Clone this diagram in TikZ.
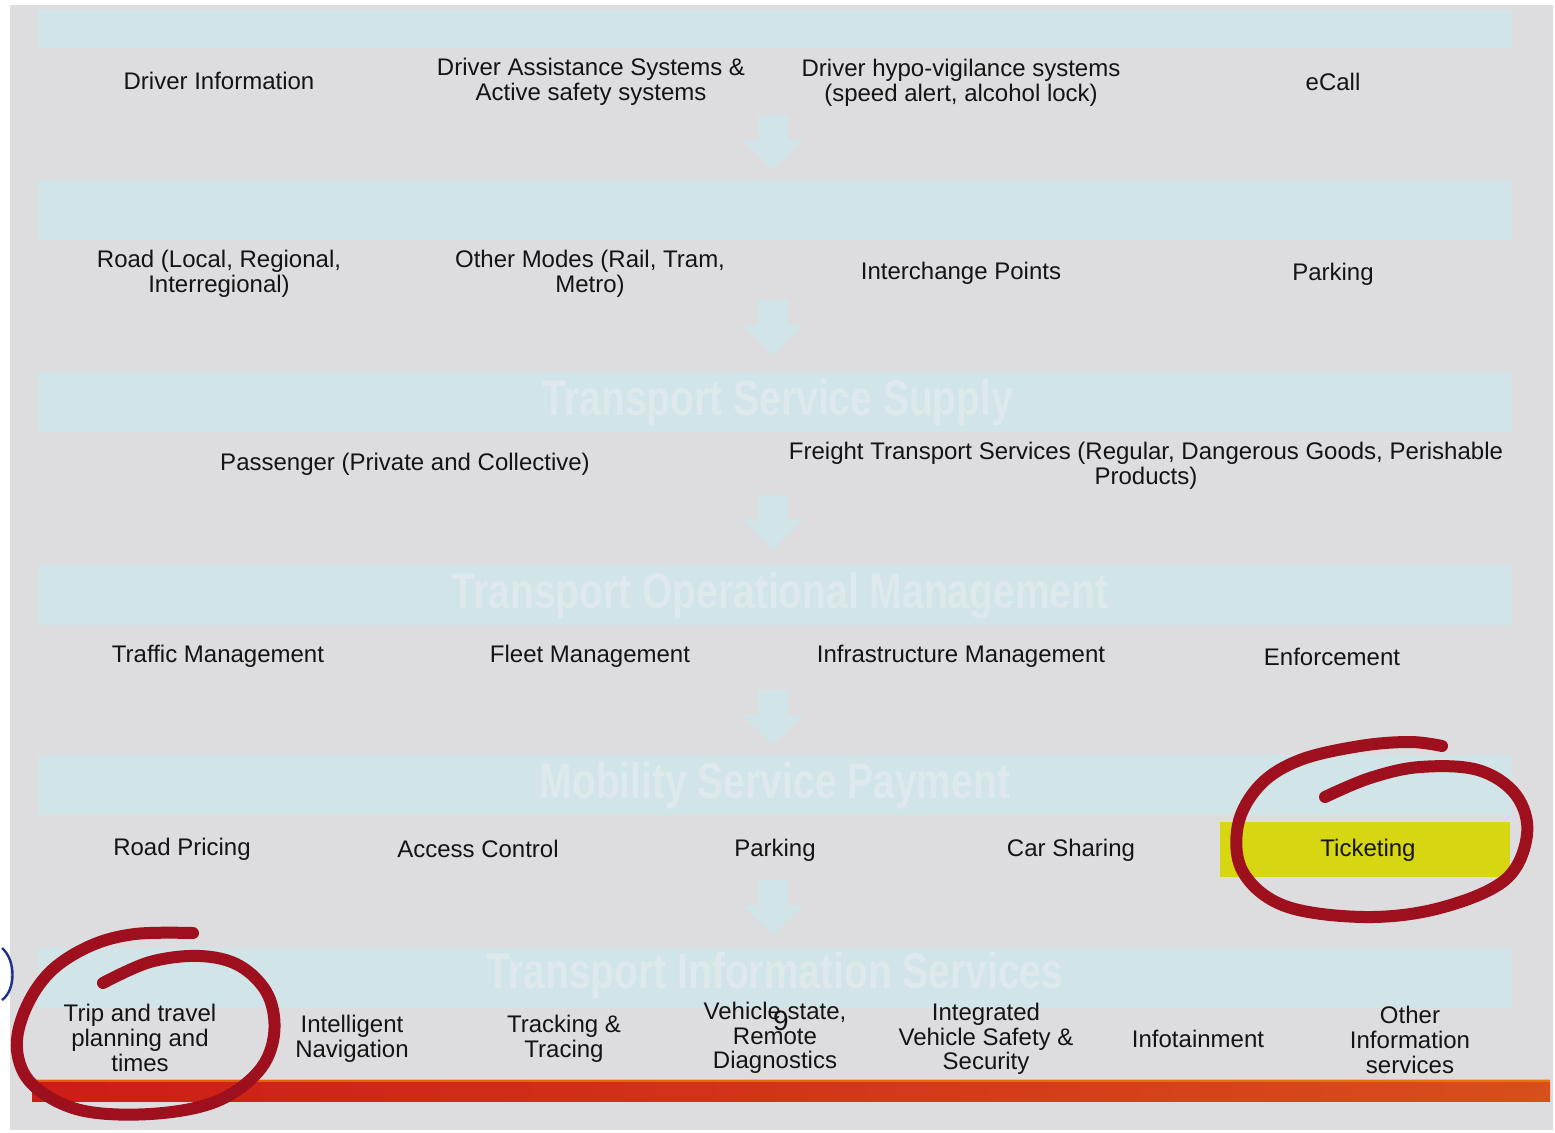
\documentclass[tikz,border=0pt]{standalone}
\usepackage{fontspec}
\setmainfont{Liberation Sans}
\newfontfamily\bannerfont{Liberation Sans}[FakeStretch=0.78]
\definecolor{bgc}{RGB}{221,221,224}
\definecolor{bannerc}{RGB}{209,228,232}
\definecolor{btext}{RGB}{222,233,236}
\definecolor{txt}{RGB}{20,20,20}
\definecolor{ticketc}{RGB}{214,214,18}
\definecolor{penred}{RGB}{158,16,30}
\definecolor{barred}{RGB}{205,28,24}
\definecolor{barorange}{RGB}{216,78,28}
\definecolor{penblue}{RGB}{30,50,140}
\tikzset{
  item/.style={font=\fontsize{12}{12.3}\selectfont, align=center, inner sep=0pt, text=txt},
  banner/.style={fill=bannerc, draw=none},
  btitle/.style={font=\bannerfont\bfseries\fontsize{25}{25}\selectfont, text=btext, inner sep=0pt},
  blockarrow/.style={fill=bannerc, draw=none},
  redpen/.style={draw=penred, line width=6pt, line cap=round, line join=round}
}
\begin{document}
\begin{tikzpicture}[x=0.5pt,y=-0.5pt]
\useasboundingbox (0,0) rectangle (1555,1132);
\fill[white] (0,0) rectangle (1555,1132);
\fill[bgc] (10,5) rectangle (1553,1130);
% banners
\fill[banner] (38,10) rectangle (1512,48);
\fill[banner] (38,180) rectangle (1512,240);
\fill[banner] (38,372) rectangle (1512,432);
\fill[banner] (38,565) rectangle (1512,625);
\fill[banner] (38,755) rectangle (1512,815);
\fill[banner] (38,948) rectangle (1512,1008);
\node[btitle] (t3) at (778,403) {Transport Service Supply};
\node[btitle] (t4) at (780,596) {Transport Operational Management};
\node[btitle] (t5) at (775,786) {Mobility Service Payment};
\node[btitle] (t6) at (775,976) {Transport Information Services};
% down arrows
\foreach \y in {115,300,495,690,880}{
  \fill[blockarrow] (758,\y) -- (788,\y) -- (788,\y+25) -- (803,\y+25) -- (773,\y+55) -- (742,\y+25) -- (758,\y+25) -- cycle;
}
% ticketing highlight
\fill[ticketc] (1220,822) rectangle (1510,877);
% red bar
\shade[left color=barred, right color=barorange] (32,1080) rectangle (1550,1101);
\fill[orange!80!yellow, opacity=0.5] (32,1079) rectangle (1550,1082);
% row 1
\node[item] (di) at (219,81) {Driver Information};
\node[item] (das) at (591,82) {Driver Assistance Systems \&\\Active safety systems};
\node[item] (dhv) at (961,83) {Driver hypo-vigilance systems\\(speed alert, alcohol lock)};
\node[item] (ecall) at (1333,82) {eCall};
% row 2
\node[item] (road) at (219,274) {Road (Local, Regional,\\Interregional)};
\node[item] (other) at (590,274) {Other Modes (Rail, Tram,\\Metro)};
\node[item] (inter) at (961,273) {Interchange Points};
\node[item] (park1) at (1333,274) {Parking};
% row 3
\node[item] (pass) at (405,464) {Passenger (Private and Collective)};
\node[item] (freight) at (1146,466) {Freight Transport Services (Regular, Dangerous Goods, Perishable\\Products)};
% row 4
\node[item] (traffic) at (218,656) {Traffic Management};
\node[item] (fleet) at (590,656) {Fleet Management};
\node[item] (infra) at (961,656) {Infrastructure Management};
\node[item] (enf) at (1332,657) {Enforcement};
% row 5
\node[item] (rp) at (182,849) {Road Pricing};
\node[item] (ac) at (478,849) {Access Control};
\node[item] (park2) at (775,850) {Parking};
\node[item] (cs) at (1071,850) {Car Sharing};
\node[item] (tick) at (1368,850) {Ticketing};
% row 6
\node[item] (trip) at (140,1038) {Trip and travel\\planning and\\times};
\node[item] (nav) at (352,1039) {Intelligent\\Navigation};
\node[item] (track) at (564,1039) {Tracking \&\\Tracing};
\node[item] (veh) at (775,1038) {Vehicle state,\\Remote\\Diagnostics};
\node[item] (ivs) at (986,1039) {Integrated\\Vehicle Safety \&\\Security};
\node[item] (info) at (1198,1039) {Infotainment};
\node[item] (ois) at (1410,1040) {Other\\Information\\services};
\node[item, font=\fontsize{14}{14}\selectfont] (nine) at (781,1021) {9};
% hand-drawn circles
\draw[redpen] plot[smooth, tension=0.6] coordinates {(1325,797) (1370,778) (1420,767) (1478,770) (1516,795) (1527,835) (1505,880) (1440,908) (1365,917) (1285,906) (1243,872) (1238,825) (1260,785) (1300,760) (1360,746) (1410,742) (1442,746)};
\draw[redpen] plot[smooth, tension=0.6] coordinates {(103,983) (150,962) (200,956) (240,966) (268,995) (274,1035) (258,1072) (215,1102) (150,1114) (80,1110) (33,1085) (17,1050) (25,1010) (50,972) (90,946) (135,934) (193,933)};
% blue stroke at left edge
\draw[penblue, line width=1.2pt] (2,948) .. controls (16,960) and (16,990) .. (2,1000);
\end{tikzpicture}
\end{document}
